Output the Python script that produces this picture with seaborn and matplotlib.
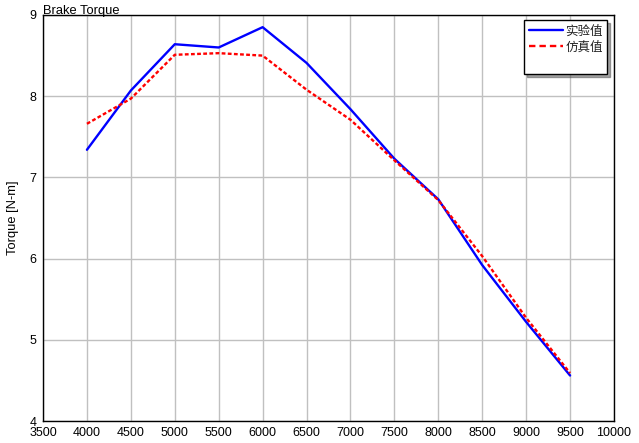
import matplotlib
matplotlib.use("Agg")
import matplotlib.pyplot as plt
import seaborn as sns
import pandas as pd
from matplotlib.lines import Line2D

speed = [4000, 4500, 5000, 5500, 6000, 6500, 7000, 7500, 8000, 8500, 9000, 9500]
experiment = [7.34, 8.07, 8.64, 8.60, 8.85, 8.41, 7.84, 7.23, 6.73, 5.92, 5.22, 4.56]
simulation = [7.66, 7.97, 8.51, 8.53, 8.50, 8.08, 7.71, 7.21, 6.72, 6.03, 5.27, 4.59]
series_names = ["实验值", "仿真值"]
x_ticks = list(range(3500, 10001, 500))
y_ticks = [4, 5, 6, 7, 8, 9]

sns.set_style("white")
plt.rcParams['font.family'] = ['Liberation Sans', 'Noto Sans CJK SC', 'DejaVu Sans']

df = pd.DataFrame({
    "speed": speed * 2,
    "torque": experiment + simulation,
    "series": [series_names[0]] * len(speed) + [series_names[1]] * len(speed),
})

fig = plt.figure(figsize=(6.39, 4.43), dpi=100)
ax = fig.add_axes([43/639, 22/443, 571/639, 406/443])

lw = 1.7
dash = (1.6, 1.0)
sns.lineplot(data=df, x="speed", y="torque", hue="series", style="series",
             palette={series_names[0]: "#0000ff", series_names[1]: "#ff0000"},
             dashes={series_names[0]: "", series_names[1]: dash},
             linewidth=lw, ax=ax, legend=False)

ax.set_xlim(3500, 10000)
ax.set_ylim(4, 9)
ax.set_xticks(x_ticks)
ax.set_yticks(y_ticks)
ax.grid(True, color="#c0c0c0", linewidth=1)
ax.set_axisbelow(True)
for s in ax.spines.values():
    s.set_color("black")
    s.set_linewidth(1)
ax.tick_params(length=0, labelsize=9, labelcolor="black")
ax.tick_params(axis="x", pad=4.5)
ax.tick_params(axis="y", pad=4.5)
ax.set_xlabel("")
ax.set_ylabel("Torque [N-m]", fontsize=9.3, labelpad=8, color="black")
ax.set_title("Brake Torque", loc="left", fontsize=9.3, pad=1, color="black")

handles = [Line2D([], [], color="#0000ff", lw=lw),
           Line2D([], [], color="#ff0000", lw=lw, ls=(0, tuple(d * lw for d in dash))),
           Line2D([], [], color="none", lw=0)]
labels = series_names + [" "]
leg = ax.legend(handles, labels, loc="upper right", bbox_to_anchor=(0.9877, 0.9877),
                frameon=True, fancybox=False, shadow=True, edgecolor="black",
                framealpha=1, fontsize=9, handlelength=2.7, borderpad=0.35,
                labelspacing=0.25, handletextpad=0.2, borderaxespad=0)
for t in leg.get_texts():
    t.set_fontfamily(['Noto Sans CJK SC', 'DejaVu Sans'])
    t.set_color("#222222")
leg.get_frame().set_linewidth(1)

fig.savefig("out.png", dpi=100)
